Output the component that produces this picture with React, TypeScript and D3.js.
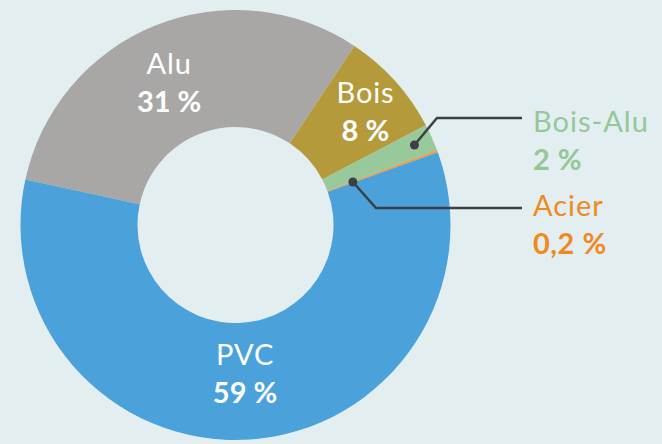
import React from "react";
import * as d3 from "d3";

// share of window frame materials, in %
const categories = ["Alu", "Bois", "Bois-Alu", "Acier", "PVC"];
const shares = [31, 8, 2, 0.2, 59];
const shareLabels = ["31 %", "8 %", "2 %", "0,2 %", "59 %"];
const sliceColors = ["#a8a7a6", "#b59a3c", "#98c99b", "#e9a04a", "#4ba1da"];
const textColors = ["#ffffff", "#ffffff", "#94c897", "#ef8a1f", "#ffffff"];

const width = 662;
const height = 444;
const cx = 235.5;
const cy = 225;
const rOuter = 215;
const rInner = 98;
const startDeg = -77.8;

// inner labels sit near the slice centroid: radius + small angle tweak (deg)
const insideLabel: { [k: string]: { r: number; da: number } } = {
  Alu: { r: 160, da: -2.4 },
  Bois: { r: 175, da: 0 },
  PVC: { r: 145, da: 0 },
};
// outer labels: dot radius, elbow and text position
const outside: { [k: string]: { dotR: number; elbowX: number; lineY: number; textX: number; textY: number } } = {
  "Bois-Alu": { dotR: 196, elbowX: 437, lineY: 118, textX: 533, textY: 132 },
  Acier: { dotR: 125, elbowX: 376, lineY: 208, textX: 533, textY: 216 },
};

const font = "Lato, 'Open Sans', sans-serif";

const App = () => {
  const start = (startDeg * Math.PI) / 180;
  const pie = d3
    .pie<number>()
    .sort(null)
    .startAngle(start)
    .endAngle(start + 2 * Math.PI)(shares);

  const arc = d3.arc<d3.PieArcDatum<number>>().innerRadius(rInner).outerRadius(rOuter);

  const at = (slice: d3.PieArcDatum<number>, r: number, daDeg = 0) => {
    const a = (slice.startAngle + slice.endAngle) / 2 + (daDeg * Math.PI) / 180;
    return [cx + r * Math.sin(a), cy - r * Math.cos(a)];
  };

  return (
    <svg width={width} height={height} style={{ position: "absolute", left: 0, top: 0 }}>
      <rect width={width} height={height} fill="#e3eef1" />
      <g transform={`translate(${cx},${cy})`}>
        {pie.map((slice, i) => (
          <path key={categories[i]} d={arc(slice) || ""} fill={sliceColors[i]} />
        ))}
      </g>

      {pie.map((slice, i) => {
        const name = categories[i];
        const l = insideLabel[name];
        if (!l) return null;
        const [x, y] = at(slice, l.r, l.da);
        return (
          <g key={name} fill="#fff" fontFamily={font} textAnchor="middle">
            <text x={x} y={y - 5} fontSize={29} fontWeight={400} letterSpacing={0.8}>
              {name}
            </text>
            <text x={x} y={y + 33} fontSize={29} fontWeight={700}>
              {shareLabels[i]}
            </text>
          </g>
        );
      })}

      {pie.map((slice, i) => {
        const name = categories[i];
        const o = outside[name];
        if (!o) return null;
        const [dx, dy] = at(slice, o.dotR);
        const path = d3.path();
        path.moveTo(dx, dy);
        path.lineTo(o.elbowX, o.lineY);
        path.lineTo(o.textX - 11, o.lineY);
        return (
          <g key={name}>
            <path d={path.toString()} fill="none" stroke="#3d4043" strokeWidth={2.5} />
            <circle cx={dx} cy={dy} r={4.5} fill="#3d4043" />
            <text x={o.textX} y={o.textY} fontFamily={font} fontSize={29} letterSpacing={1} fill={textColors[i]}>
              {name}
            </text>
            <text x={o.textX} y={o.textY + 38} fontFamily={font} fontSize={29} fontWeight={700} letterSpacing={0.5} fill={textColors[i]}>
              {shareLabels[i]}
            </text>
          </g>
        );
      })}
    </svg>
  );
};

export default App;
